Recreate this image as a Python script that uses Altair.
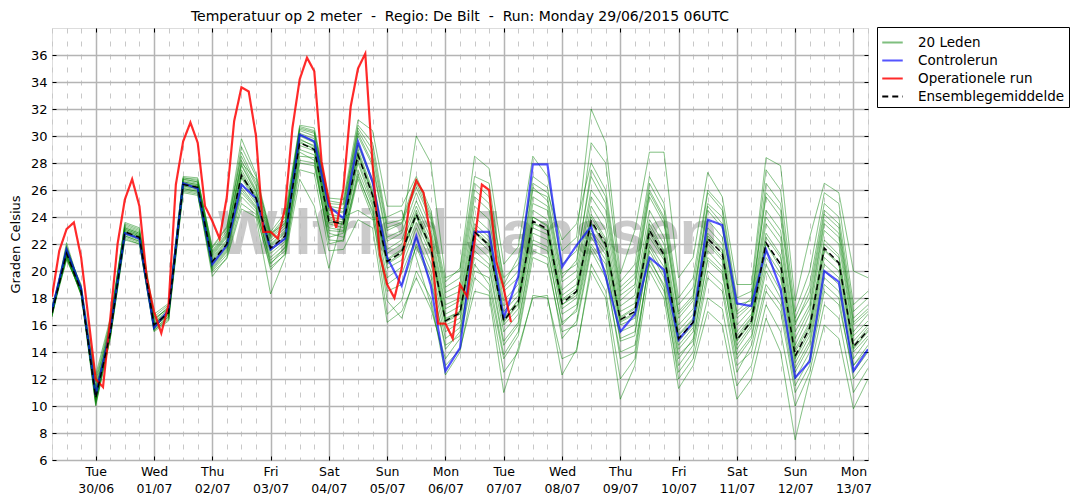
import altair as alt
import pandas as pd
from datetime import datetime, timedelta, timezone

START = datetime(2015, 6, 29, 6, tzinfo=timezone.utc)


def ms(dt):
    return int(dt.timestamp() * 1000)


GROUPS = ["20 Leden", "Controlerun", "Operationele run", "Ensemblegemiddelde"]

# Controlerun, every 6 hours from Mon 29/06 06UTC
control = [17.1, 21.6, 18.7, 10.8, 15.6, 22.8, 22.4, 15.8, 17.1, 26.5, 26.1, 20.5, 21.9,
           26.4, 25.4, 21.6, 22.4, 30.1, 29.6, 24.8, 23.9, 29.6, 26.6, 21.0, 18.9, 22.6,
           18.9, 12.6, 14.3, 22.9, 22.9, 16.5, 19.6, 27.9, 27.9, 20.3, 21.9, 23.3, 19.6,
           15.5, 16.8, 21.0, 20.1, 14.9, 16.2, 23.8, 23.4, 17.6, 17.4, 21.6, 18.7, 12.1,
           13.3, 20.0, 19.2, 12.6, 14.2]

# Ensemblegemiddelde, every 6 hours
ens_mean = [16.9, 21.3, 18.5, 10.6, 15.4, 22.9, 22.5, 16.0, 16.9, 26.4, 26.2, 20.7, 22.0,
            27.1, 25.4, 21.7, 22.6, 29.5, 29.0, 23.7, 23.5, 28.6, 25.6, 20.7, 21.4, 24.2,
            21.7, 16.3, 16.9, 22.9, 21.9, 16.3, 17.7, 23.7, 23.1, 17.6, 18.5, 23.7, 22.0,
            16.4, 17.0, 23.0, 21.2, 15.0, 16.2, 22.4, 21.3, 14.9, 16.3, 22.1, 20.5, 13.7,
            15.8, 21.7, 20.6, 14.4, 15.6]

# Operationele run, every 3 hours
operational = [18.1, 21.5, 23.1, 23.6, 21.0, 16.5, 12.0, 11.4, 16.5, 22.0, 25.3, 26.8,
               24.8, 19.5, 17.0, 15.4, 17.5, 26.4, 29.6, 31.0, 29.5, 24.8, 23.7, 22.4,
               25.5, 31.1, 33.6, 33.3, 30.0, 22.9, 22.9, 22.4, 24.7, 30.6, 34.2, 35.8,
               34.8, 28.1, 25.2, 23.2, 26.1, 32.2, 35.0, 36.1, 27.9, 21.2, 19.0, 18.0,
               20.2, 24.9, 26.7, 25.8, 22.4, 16.1, 16.1, 15.0, 19.0, 18.1, 22.2, 26.4,
               26.0, 20.7, 18.7, 16.2]

# 20 Leden: one row per 6-hour step, 20 member values each
members_by_step = [
    [17.0, 16.8, 17.2, 16.6, 17.1, 16.9, 17.3, 16.7, 17.0, 16.8, 17.1, 16.9, 16.6, 17.2, 17.0, 16.8, 17.1, 16.9, 17.4, 16.7],
    [21.2, 21.5, 21.0, 21.8, 21.3, 21.1, 21.6, 20.9, 21.4, 22.1, 21.2, 21.0, 21.5, 21.7, 20.8, 21.3, 21.4, 21.9, 21.1, 21.6],
    [18.6, 18.4, 18.3, 18.8, 18.5, 18.2, 18.9, 18.4, 18.7, 18.6, 18.3, 18.5, 19.0, 18.4, 18.6, 18.2, 18.7, 18.5, 18.8, 18.3],
    [10.5, 11.2, 10.0, 10.8, 11.5, 10.3, 12.3, 10.6, 10.9, 10.2, 11.8, 10.4, 10.7, 11.0, 10.1, 12.0, 10.5, 10.8, 11.3, 10.6],
    [15.3, 15.8, 15.0, 15.6, 16.2, 15.2, 16.5, 15.4, 15.7, 15.1, 16.0, 15.3, 15.5, 15.9, 15.0, 16.3, 15.4, 15.6, 15.8, 15.2],
    [22.8, 23.2, 22.5, 23.0, 23.5, 22.6, 23.4, 22.9, 23.1, 22.4, 23.3, 22.7, 23.0, 23.6, 22.3, 23.1, 22.8, 22.9, 23.2, 22.6],
    [22.4, 22.8, 22.1, 22.6, 23.1, 22.2, 23.0, 22.5, 22.7, 22.0, 22.9, 22.3, 22.6, 23.2, 22.0, 22.7, 22.4, 22.5, 22.8, 22.2],
    [15.9, 16.2, 15.6, 16.1, 16.6, 15.7, 16.4, 15.8, 16.0, 15.5, 16.3, 15.9, 16.1, 16.8, 15.6, 16.2, 15.8, 16.0, 16.5, 15.7],
    [16.8, 17.2, 16.5, 17.0, 17.5, 16.6, 17.3, 16.9, 17.1, 16.3, 17.4, 16.7, 16.9, 17.6, 16.4, 17.0, 16.8, 16.9, 17.2, 16.6],
    [26.3, 26.8, 25.9, 26.5, 27.0, 26.1, 26.7, 26.4, 26.6, 25.8, 26.9, 26.2, 26.5, 26.9, 26.0, 26.6, 26.3, 26.4, 26.8, 26.1],
    [26.1, 26.6, 25.7, 26.3, 26.9, 25.9, 26.5, 26.2, 26.4, 25.6, 26.8, 26.0, 26.3, 26.7, 25.8, 26.4, 26.1, 26.2, 26.6, 25.9],
    [20.5, 21.2, 19.6, 20.8, 21.7, 20.1, 21.4, 20.6, 21.0, 19.9, 21.5, 20.3, 20.9, 21.8, 20.0, 21.1, 20.4, 20.7, 21.3, 20.2],
    [21.8, 22.6, 21.0, 22.1, 23.2, 21.4, 22.8, 21.9, 22.3, 20.9, 23.0, 21.6, 22.2, 23.3, 21.2, 22.5, 21.7, 22.0, 22.7, 21.5],
    [27.5, 28.2, 25.0, 27.0, 29.8, 25.8, 28.8, 26.9, 27.8, 24.6, 29.2, 26.2, 27.3, 28.5, 25.5, 27.9, 26.5, 27.1, 28.0, 26.0],
    [25.6, 26.0, 24.2, 25.3, 27.2, 24.6, 26.5, 25.1, 25.8, 24.0, 27.0, 24.8, 25.4, 26.3, 24.4, 25.9, 25.0, 25.5, 26.8, 24.7],
    [21.5, 22.4, 20.3, 21.8, 22.9, 20.8, 22.6, 21.3, 22.0, 18.3, 22.7, 20.6, 21.9, 22.5, 20.1, 22.2, 21.0, 21.6, 22.8, 20.5],
    [22.4, 23.4, 21.2, 22.8, 24.3, 21.7, 23.8, 22.2, 23.0, 21.0, 24.0, 21.5, 22.9, 23.6, 21.3, 23.2, 22.0, 22.6, 23.5, 21.8],
    [29.8, 30.5, 28.0, 29.6, 30.8, 28.5, 30.2, 29.3, 30.0, 26.8, 30.7, 28.8, 29.7, 30.4, 27.5, 30.1, 29.0, 29.5, 30.6, 28.2],
    [29.2, 30.2, 27.8, 29.0, 30.6, 28.4, 29.8, 28.9, 29.5, 24.8, 30.4, 28.2, 29.3, 30.0, 27.2, 29.6, 28.6, 29.1, 30.3, 28.0],
    [23.8, 24.8, 22.5, 23.5, 25.4, 22.0, 24.5, 23.2, 24.0, 20.2, 25.0, 22.8, 23.9, 24.6, 21.5, 24.2, 23.0, 23.6, 25.2, 22.3],
    [23.4, 24.6, 22.8, 23.2, 25.3, 22.3, 24.3, 23.0, 23.8, 24.0, 24.9, 22.5, 23.6, 24.4, 21.6, 24.0, 22.9, 23.5, 25.0, 22.2],
    [29.0, 30.4, 27.0, 28.5, 31.2, 26.8, 30.0, 28.2, 29.3, 24.5, 30.8, 27.5, 28.8, 30.2, 23.8, 29.5, 28.0, 28.7, 30.6, 27.2],
    [26.0, 28.5, 24.5, 25.6, 30.4, 24.0, 27.8, 25.3, 26.5, 23.8, 29.5, 24.8, 25.8, 28.0, 23.2, 26.8, 25.0, 25.7, 29.0, 24.3],
    [20.8, 23.0, 19.0, 20.5, 24.8, 18.5, 22.2, 20.2, 21.3, 24.0, 23.5, 17.8, 20.9, 22.5, 16.2, 21.6, 19.5, 20.6, 23.2, 16.8],
    [21.5, 23.5, 19.8, 21.2, 24.8, 19.0, 22.8, 20.8, 22.0, 24.5, 23.8, 16.5, 21.6, 23.0, 17.0, 22.3, 20.3, 21.3, 23.6, 17.8],
    [24.5, 26.2, 22.5, 24.0, 27.0, 21.8, 25.8, 23.6, 24.8, 21.0, 26.8, 20.0, 24.3, 30.0, 19.5, 25.2, 23.2, 24.1, 26.5, 22.0],
    [22.0, 23.8, 20.0, 21.5, 24.5, 19.2, 23.2, 21.2, 22.4, 17.5, 24.2, 18.0, 21.8, 28.0, 17.2, 22.8, 20.6, 21.6, 24.0, 19.6],
    [16.5, 18.0, 15.0, 16.2, 19.2, 14.5, 17.5, 16.0, 16.8, 13.0, 18.8, 12.3, 16.4, 19.5, 13.5, 17.2, 15.5, 16.3, 18.4, 14.2],
    [17.0, 18.5, 15.8, 16.8, 20.2, 15.2, 18.0, 16.5, 17.4, 14.2, 19.5, 14.0, 17.0, 20.0, 15.0, 17.8, 16.2, 16.9, 19.0, 15.5],
    [23.0, 25.5, 21.0, 22.8, 28.5, 20.5, 24.8, 22.5, 23.5, 18.5, 26.5, 19.5, 23.2, 27.0, 20.0, 24.0, 22.0, 22.9, 26.0, 21.5],
    [22.0, 24.5, 20.2, 21.8, 27.6, 19.0, 23.8, 21.5, 22.5, 18.2, 25.5, 18.5, 22.2, 26.5, 19.5, 23.0, 21.0, 21.9, 25.0, 20.5],
    [16.5, 18.5, 14.5, 16.2, 20.5, 13.5, 17.8, 16.0, 17.0, 11.0, 19.5, 12.5, 16.4, 19.0, 13.8, 17.4, 15.5, 16.3, 18.8, 14.8],
    [17.8, 19.5, 16.0, 17.5, 21.8, 15.2, 19.0, 17.2, 18.2, 14.3, 20.5, 14.0, 17.9, 21.0, 15.5, 18.5, 16.8, 17.6, 20.0, 16.2],
    [24.0, 26.0, 22.0, 23.5, 28.5, 21.0, 25.5, 23.2, 24.5, 18.0, 27.0, 18.2, 24.0, 26.5, 21.5, 25.0, 22.8, 23.6, 26.2, 22.3],
    [23.3, 25.5, 21.5, 23.0, 27.0, 20.5, 24.8, 22.7, 23.8, 18.2, 26.2, 18.0, 23.4, 25.8, 21.0, 24.5, 22.3, 23.0, 25.2, 21.8],
    [17.8, 19.8, 16.2, 17.5, 21.5, 15.5, 19.2, 17.2, 18.2, 12.3, 20.5, 13.5, 17.9, 22.3, 15.0, 18.6, 16.8, 17.5, 19.5, 16.0],
    [18.5, 20.5, 17.0, 18.2, 22.5, 16.0, 20.0, 18.0, 19.0, 14.2, 21.5, 14.0, 18.7, 23.5, 16.3, 19.5, 17.5, 18.4, 20.8, 17.2],
    [24.0, 27.5, 22.0, 23.5, 32.0, 21.5, 26.0, 23.0, 24.8, 20.0, 29.5, 20.5, 24.2, 28.0, 21.8, 25.5, 22.8, 23.6, 27.0, 22.5],
    [22.2, 25.5, 20.5, 21.8, 29.5, 19.5, 24.5, 21.5, 23.0, 18.0, 28.0, 18.5, 22.4, 26.0, 20.0, 23.8, 21.2, 21.9, 25.0, 20.8],
    [16.5, 18.5, 15.0, 16.2, 19.8, 14.0, 17.8, 16.0, 17.0, 10.5, 19.2, 12.0, 16.6, 18.8, 13.5, 17.4, 15.5, 16.3, 18.2, 14.8],
    [17.2, 19.5, 15.5, 16.8, 23.0, 14.5, 18.8, 16.5, 17.6, 13.0, 20.5, 13.5, 17.3, 19.8, 14.0, 18.2, 16.0, 16.9, 19.0, 15.2],
    [23.2, 26.0, 21.5, 22.8, 28.8, 20.5, 25.5, 22.5, 23.8, 20.0, 27.0, 21.0, 23.5, 26.5, 20.8, 24.5, 22.0, 23.0, 25.8, 21.8],
    [21.4, 24.0, 19.5, 21.0, 28.8, 18.5, 23.5, 20.8, 22.0, 18.0, 25.0, 18.8, 21.5, 24.5, 19.0, 22.5, 20.3, 21.2, 23.8, 19.8],
    [15.2, 17.0, 13.5, 14.8, 19.5, 12.5, 16.5, 14.5, 15.6, 11.3, 18.0, 12.0, 15.3, 17.5, 13.0, 16.0, 14.2, 15.0, 16.8, 13.8],
    [16.4, 18.2, 15.0, 16.0, 21.0, 14.0, 17.8, 15.8, 16.8, 13.0, 19.5, 13.5, 16.5, 18.8, 14.5, 17.2, 15.5, 16.2, 18.0, 14.8],
    [22.6, 25.0, 20.8, 22.2, 27.3, 19.5, 24.5, 22.0, 23.2, 17.0, 26.0, 18.0, 22.8, 25.8, 20.0, 23.8, 21.5, 22.4, 24.8, 21.0],
    [21.5, 24.0, 19.8, 21.0, 25.5, 18.5, 23.2, 20.8, 22.0, 16.0, 24.8, 17.2, 21.6, 24.5, 19.0, 22.5, 20.3, 21.3, 23.5, 20.0],
    [15.0, 17.0, 13.8, 14.8, 19.0, 12.5, 16.5, 14.5, 15.5, 10.5, 18.0, 11.5, 15.2, 17.5, 13.0, 16.0, 14.2, 14.9, 16.8, 13.5],
    [16.5, 18.0, 15.2, 16.2, 19.0, 14.5, 17.5, 16.0, 16.8, 12.0, 18.5, 13.0, 16.6, 17.8, 14.0, 17.2, 15.8, 16.3, 17.6, 15.0],
    [22.5, 25.5, 20.5, 22.0, 28.4, 19.0, 24.5, 21.5, 23.5, 16.5, 27.5, 17.5, 22.8, 26.5, 18.5, 24.0, 21.0, 22.0, 25.8, 20.0],
    [21.0, 24.0, 18.5, 20.2, 27.8, 17.5, 23.0, 19.8, 22.0, 14.0, 26.0, 15.5, 21.2, 25.0, 17.0, 22.5, 19.5, 20.5, 24.5, 18.0],
    [14.0, 16.0, 12.5, 13.5, 17.8, 11.5, 15.5, 13.2, 14.5, 7.5, 17.0, 10.0, 14.2, 16.5, 11.0, 15.0, 12.8, 13.6, 16.2, 12.0],
    [16.0, 18.5, 14.5, 15.5, 22.5, 13.5, 17.5, 15.2, 16.8, 12.0, 20.0, 12.5, 16.2, 19.0, 13.0, 17.2, 14.8, 15.8, 18.0, 14.0],
    [22.0, 24.5, 20.0, 21.5, 26.5, 19.0, 23.8, 21.0, 23.0, 16.0, 25.8, 17.5, 22.3, 25.0, 18.5, 23.5, 20.5, 21.6, 24.2, 19.5],
    [21.0, 23.5, 19.0, 20.5, 25.8, 18.0, 22.8, 20.0, 22.0, 15.0, 25.0, 16.5, 21.2, 24.0, 17.5, 22.5, 19.5, 20.6, 23.2, 18.5],
    [14.5, 16.5, 13.0, 14.2, 20.0, 12.0, 16.0, 14.0, 15.2, 9.8, 17.5, 11.0, 14.8, 17.0, 12.5, 15.5, 13.5, 14.3, 16.2, 13.0],
    [15.8, 17.5, 14.5, 15.5, 19.5, 13.5, 17.0, 15.2, 16.3, 12.0, 18.5, 12.8, 16.0, 18.0, 14.0, 16.8, 15.0, 15.6, 17.2, 14.2],
]

y_ticks = list(range(6, 37, 2))

times6 = [ms(START + timedelta(hours=6 * i)) for i in range(len(control))]
times3 = [ms(START + timedelta(hours=3 * j)) for j in range(len(operational))]
day_ticks = [ms(datetime(2015, 6, 30, tzinfo=timezone.utc) + timedelta(days=d)) for d in range(14)]

rows = []
for i, step in enumerate(members_by_step):
    for m, v in enumerate(step):
        rows.append({"t": times6[i], "value": v, "member": f"lid{m + 1}", "group": GROUPS[0]})
df_members = pd.DataFrame(rows)
df_control = pd.DataFrame({"t": times6, "value": control, "member": "ctrl", "group": GROUPS[1]})
df_oper = pd.DataFrame({"t": times3, "value": operational, "member": "oper", "group": GROUPS[2]})
df_mean = pd.DataFrame({"t": times6, "value": ens_mean, "member": "mean", "group": GROUPS[3]})

FONT = "DejaVu Sans"

legend = alt.Legend(
    title=None, orient="none", legendX=825, legendY=-1,
    strokeColor="black", fillColor="white", padding=4, cornerRadius=0,
    labelFont=FONT, labelFontSize=13.5, labelColor="black", labelOffset=14,
    symbolType="stroke", symbolSize=420, rowPadding=0, labelLimit=300,
    symbolStrokeWidth=2,
)

xscale = alt.Scale(type="utc", domain=[times6[0], times6[-1]])
yscale = alt.Scale(domain=[6, 38], nice=False)

minor_axis = alt.Axis(orient="bottom", values=times6, grid=True, gridColor="#c8c8c8",
                      gridDash=[5, 8], gridWidth=1, labels=False, ticks=False,
                      domain=False, title=None)
major_axis = alt.Axis(orient="bottom", values=day_ticks, grid=True, gridColor="#b4b4b4",
                      gridWidth=1.5, ticks=False, domain=False, title=None,
                      labelExpr="[utcFormat(datum.value, '%a'), utcFormat(datum.value, '%d/%m')]",
                      labelFont=FONT, labelFontSize=12.5, labelFontWeight="normal",
                      labelColor="black", labelPadding=5, labelLineHeight=17,
                      labelAlign="center")
y_axis = alt.Axis(orient="left", values=y_ticks, grid=True, gridColor="#b4b4b4", gridWidth=1.5,
                  ticks=False, domain=False, labelFont=FONT, labelFontSize=13,
                  labelColor="black", labelPadding=5, title="Graden Celsius",
                  titleFont=FONT, titleFontSize=13, titleFontWeight="normal",
                  titleColor="black", titlePadding=8)


def tick_axis(orient, values):
    # matplotlib-style inward ticks drawn just inside the frame
    return alt.Axis(orient=orient, values=values, offset=-4, tickSize=4, ticks=True,
                    tickColor="black", tickWidth=1, labels=False, domain=False,
                    grid=False, title=None)


def layer(df, xaxis, yaxis, stroke_width):
    return alt.Chart(df).mark_line(clip=True, strokeWidth=stroke_width).encode(
        x=alt.X("t:T", scale=xscale, axis=xaxis),
        y=alt.Y("value:Q", scale=yscale, axis=yaxis),
        color=alt.Color("group:N", scale=alt.Scale(domain=GROUPS, range=["#008000", "#0000ff", "#ff0000", "#000000"]), legend=legend),
        opacity=alt.Opacity("group:N", scale=alt.Scale(domain=GROUPS, range=[0.5, 1, 1, 1]), legend=legend),
        strokeDash=alt.StrokeDash("group:N", scale=alt.Scale(domain=GROUPS, range=[[1, 0], [1, 0], [1, 0], [6, 4]]), legend=legend),
        detail="member:N",
    )


watermark = alt.Chart(pd.DataFrame({"label": ["Wilfried Janssen"]})).mark_text(
    font="Liberation Sans", fontWeight="bold", fontSize=63, color="#bdbdbd",
    opacity=0.8, align="center", baseline="alphabetic",
).encode(x=alt.value(416), y=alt.value(226), text="label:N")

members_layer = layer(df_members, minor_axis, y_axis, 1)
control_layer = layer(df_control, major_axis, tick_axis("right", y_ticks), 2.2)
oper_layer = layer(df_oper, tick_axis("top", day_ticks), tick_axis("left", y_ticks), 2.2)
mean_layer = layer(df_mean, tick_axis("bottom", day_ticks), None, 1.5)

chart = alt.layer(
    watermark, members_layer, control_layer, oper_layer, mean_layer
).resolve_axis(x="independent", y="independent").properties(
    width=816, height=432,
    title=alt.TitleParams(
        "Temperatuur op 2 meter\u00a0\u00a0-\u00a0\u00a0Regio: De Bilt\u00a0\u00a0-\u00a0\u00a0Run: Monday 29/06/2015 06UTC",
        font=FONT, fontSize=14, fontWeight="normal", color="black", anchor="middle", offset=3,
    ),
    autosize=alt.AutoSizeParams(type="none"),
    padding={"left": 44, "top": 20, "right": 208, "bottom": 34},
).configure_view(stroke="black", strokeWidth=1.2).configure(background="white")

chart.save("out.html", embed_options={"renderer": "svg", "actions": False})
